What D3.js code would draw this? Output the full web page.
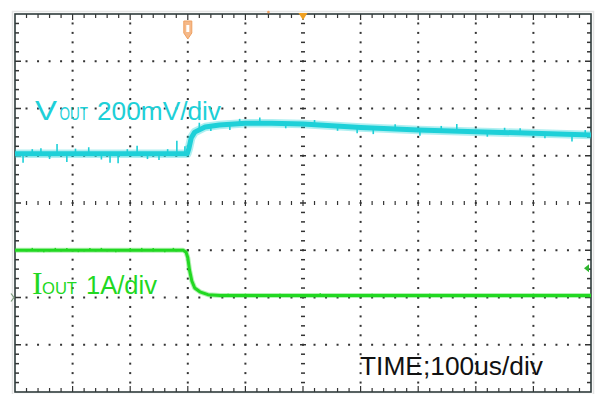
<!DOCTYPE html>
<html>
<head>
<meta charset="utf-8">
<script src="https://cdn.jsdelivr.net/npm/d3@7/dist/d3.min.js"></script>
<style>
  html, body { margin: 0; padding: 0; background: #fff; }
  svg { display: block; }
</style>
</head>
<body>
<svg id="chart" width="595" height="394"></svg>
<script>
// ---- data (time in µs, trigger at 0; 100 µs/div) ----
// VOUT trace, in screen divisions from centre (200 mV/div)
const voutTime = [-500, -201, -198, -194, -188, -170, -145, -100, -55, 0, 100, 200, 300, 400, 500];
const voutDiv  = [1.04, 1.04, 1.16, 1.38, 1.50, 1.61, 1.65, 1.69, 1.69, 1.67, 1.60, 1.545, 1.51, 1.475, 1.44];
// visible noise spikes on VOUT: time, excursion (div)
const voutSpikeTime = [-486, -470, -455, -440, -427, -410, -395, -372, -350, -335, -321, -305, -288, -270, -250, -235, -219, -205, -180, -160, -127, -110, -75, -30, 20, 60, 94, 122, 160, 203, 240, 267, 320, 350, 377, 420, 467, 490];
const voutSpikeDiv  = [-0.19, 0.10, 0.12, -0.11, 0.21, -0.17, 0.11, 0.14, -0.12, -0.19, -0.20, 0.10, 0.17, -0.11, -0.13, 0.10, 0.28, 0.16, 0.15, -0.10, -0.12, 0.10, 0.12, -0.10, 0.10, -0.10, -0.13, -0.13, 0.10, -0.12, 0.10, 0.15, -0.10, 0.10, 0.10, -0.10, -0.15, 0.10];
// IOUT trace, amps (1 A/div, ground at -2 div)
const ioutTime = [-500, -208, -203, -200, -197, -193, -188, -179, -165, -144, 500];
const ioutAmp  = [1.0, 1.0, 0.96, 0.84, 0.58, 0.35, 0.20, 0.12, 0.06, 0.04, 0.04];
const ioutSpikeTime = [-470, -450, -430, -410, -390, -370, -350, -325, -300, -280, -260, -240, -225, -130, -100, -40, 30, 120, 220, 300, 400];
const ioutSpikeAmp  = [0.05, -0.04, 0.05, 0.05, -0.04, 0.05, 0.05, -0.04, 0.05, 0.05, 0.05, -0.04, 0.05, 0.04, 0.04, 0.04, 0.05, 0.04, 0.04, 0.03, 0.04];
const ioutGroundDiv = -2;
// labels
const voutLabel = ["V", "OUT", "200mV/div"];
const ioutLabel = ["I", "OUT", "1A/div"];
const timeLabel = "TIME;100us/div";
const xDomain = [-500, 500];
const yDomain = [-4, 4];

// ---- drawing ----
const svg = d3.select("#chart");
const L = 15, R = 591, T = 14, B = 392;
const x = d3.scaleLinear().domain(xDomain).range([L, R]);
const y = d3.scaleLinear().domain(yDomain).range([B, T]);

const gridCol = "#333";
const cyan = "#1ed0d8";
const green = "#22d822";

// faint outer frame
svg.append("rect").attr("x", L - 2.5).attr("y", T - 2.5).attr("width", R - L + 5).attr("height", B - T + 5)
  .attr("fill", "none").attr("stroke", "#e4e4e4").attr("stroke-width", 1.5);

const xMajor = d3.range(xDomain[0], xDomain[1] + 1, 100);
const xMinor = d3.range(xDomain[0], xDomain[1] + 1, 20);
const yMajor = d3.range(yDomain[0], yDomain[1] + 0.001, 1);
const yMinor = d3.range(0, 41).map(i => yDomain[0] + i * 0.2);

const g = svg.append("g");
// dotted grid
xMajor.filter(t => t !== 0 && Math.abs(t) !== 500).forEach(t => {
  yMinor.filter(v => Math.abs(v) < 3.99).forEach(v => {
    g.append("rect").attr("x", x(t) - 1).attr("y", y(v) - 1).attr("width", 2).attr("height", 2).attr("fill", gridCol);
  });
});
yMajor.filter(v => v !== 0 && Math.abs(v) !== 4).forEach(v => {
  xMinor.filter(t => Math.abs(t) < 499).forEach(t => {
    g.append("rect").attr("x", x(t) - 1).attr("y", y(v) - 1).attr("width", 2).attr("height", 2).attr("fill", gridCol);
  });
});
// centre cross ticks
yMinor.filter(v => Math.abs(v) < 3.99).forEach(v => {
  const w = (Math.abs(v - Math.round(v)) < 1e-6) ? 6 : 4;
  g.append("line").attr("x1", x(0) - w / 2).attr("x2", x(0) + w / 2).attr("y1", y(v)).attr("y2", y(v))
    .attr("stroke", gridCol).attr("stroke-width", 1.5);
});
xMinor.filter(t => Math.abs(t) < 499).forEach(t => {
  const h = (t % 100 === 0) ? 6 : 4;
  g.append("line").attr("x1", x(t)).attr("x2", x(t)).attr("y1", y(0) - h / 2).attr("y2", y(0) + h / 2)
    .attr("stroke", gridCol).attr("stroke-width", 1.2);
});
// border ticks
xMinor.filter(t => Math.abs(t) < 499).forEach(t => {
  const len = (t % 100 === 0) ? 6 : 4;
  g.append("line").attr("x1", x(t)).attr("x2", x(t)).attr("y1", T).attr("y2", T + len).attr("stroke", gridCol).attr("stroke-width", 1.2);
  g.append("line").attr("x1", x(t)).attr("x2", x(t)).attr("y1", B).attr("y2", B - len).attr("stroke", gridCol).attr("stroke-width", 1.2);
});
yMinor.filter(v => Math.abs(v) < 3.99).forEach(v => {
  const len = (Math.abs(v - Math.round(v)) < 1e-6) ? 6 : 4;
  g.append("line").attr("x1", L).attr("x2", L + len).attr("y1", y(v)).attr("y2", y(v)).attr("stroke", gridCol).attr("stroke-width", 1.5);
  g.append("line").attr("x1", R).attr("x2", R - len).attr("y1", y(v)).attr("y2", y(v)).attr("stroke", gridCol).attr("stroke-width", 1.5);
});
// border
g.append("rect").attr("x", L).attr("y", T).attr("width", R - L).attr("height", B - T)
  .attr("fill", "none").attr("stroke", "#2f3b3b").attr("stroke-width", 1.6);

// ---- traces ----
svg.append("clipPath").attr("id", "clip").append("rect")
  .attr("x", L - 3).attr("y", T).attr("width", R - L + 3).attr("height", B - T);
const tr = svg.append("g").attr("clip-path", "url(#clip)");

const voutPts = voutTime.map((t, i) => [t, voutDiv[i]]);
const ioutPts = ioutTime.map((t, i) => [t, ioutAmp[i] + ioutGroundDiv]);
const line = d3.line().x(d => x(d[0])).y(d => y(d[1]));
const interp = (ts, vs, t) => {
  for (let i = 1; i < ts.length; i++) {
    if (t <= ts[i]) { const f = (t - ts[i - 1]) / (ts[i] - ts[i - 1]); return vs[i - 1] + f * (vs[i] - vs[i - 1]); }
  }
  return vs[vs.length - 1];
};

tr.append("path").attr("d", line(voutPts)).attr("fill", "none").attr("stroke", cyan).attr("stroke-opacity", 0.35)
  .attr("stroke-width", 8.5).attr("stroke-linejoin", "round");
tr.append("path").attr("d", line(voutPts)).attr("fill", "none").attr("stroke", cyan)
  .attr("stroke-width", 5).attr("stroke-linejoin", "round");
voutSpikeTime.forEach((t, i) => {
  const base = interp(voutTime, voutDiv, t);
  tr.append("line").attr("x1", x(t)).attr("x2", x(t)).attr("y1", y(base)).attr("y2", y(base + voutSpikeDiv[i]))
    .attr("stroke", cyan).attr("stroke-width", 1.6);
});

tr.append("path").attr("d", line(ioutPts)).attr("fill", "none").attr("stroke", green).attr("stroke-opacity", 0.35)
  .attr("stroke-width", 5).attr("stroke-linejoin", "round");
tr.append("path").attr("d", line(ioutPts)).attr("fill", "none").attr("stroke", green)
  .attr("stroke-width", 3).attr("stroke-linejoin", "round");
ioutSpikeTime.forEach((t, i) => {
  const base = interp(ioutTime, ioutAmp, t) + ioutGroundDiv;
  tr.append("line").attr("x1", x(t)).attr("x2", x(t)).attr("y1", y(base)).attr("y2", y(base + ioutSpikeAmp[i]))
    .attr("stroke", green).attr("stroke-width", 1.5);
});

// ---- markers ----
// trigger position (orange triangle at top centre)
svg.append("path").attr("d", `M${x(0) - 4.5},${T - 1} L${x(0) + 4.5},${T - 1} L${x(0)},${T + 6} Z`).attr("fill", "#f0a020");
svg.append("circle").attr("cx", x(-60)).attr("cy", T - 2).attr("r", 1.3).attr("fill", "#f0a060");
// trigger marker "T" at -200 µs
const mx = x(-200);
svg.append("path").attr("d", `M${mx - 4},21 L${mx + 4},21 L${mx + 4},33 L${mx},39 L${mx - 4},33 Z`)
  .attr("fill", "#f5b888").attr("stroke", "#eea060").attr("stroke-width", 1);
svg.append("path").attr("d", `M${mx - 1.5},25 L${mx + 1.5},25 L${mx + 1.5},32 L${mx - 1.5},32 Z`).attr("fill", "#fff");
// ch2 trigger level arrow at right
svg.append("path").attr("d", `M${R - 7},${y(-1.38)} L${R - 2},${y(-1.38) - 4} L${R - 2},${y(-1.38) + 4} Z`).attr("fill", "#2db52d");
// ch2 ground marker at left
svg.append("path").attr("d", `M${L - 4},${y(ioutGroundDiv) - 4} L${L - 1},${y(ioutGroundDiv)} L${L - 4},${y(ioutGroundDiv) + 4}`)
  .attr("fill", "none").attr("stroke", "#7a9a7a").attr("stroke-width", 1.2);

// ---- labels ----
const font = "'Liberation Sans', Arial, sans-serif";
const vl = svg.append("g").attr("fill", cyan).attr("font-family", font);
vl.append("text").attr("x", 35).attr("y", 119.5).attr("font-size", 27).attr("textLength", 22).attr("lengthAdjust", "spacingAndGlyphs").text(voutLabel[0]);
vl.append("text").attr("x", 59.5).attr("y", 119.5).attr("font-size", 18).attr("textLength", 28.5).attr("lengthAdjust", "spacingAndGlyphs").text(voutLabel[1]);
vl.append("text").attr("x", 97).attr("y", 119.5).attr("font-size", 26).attr("textLength", 124).attr("lengthAdjust", "spacingAndGlyphs").text(voutLabel[2]);

const il = svg.append("g").attr("fill", green);
il.append("text").attr("x", 32).attr("y", 294).attr("font-family", "'Liberation Serif', 'Times New Roman', serif").attr("font-size", 32).text(ioutLabel[0]);
il.append("text").attr("x", 42).attr("y", 294).attr("font-family", font).attr("font-size", 17).attr("textLength", 35).attr("lengthAdjust", "spacingAndGlyphs").text(ioutLabel[1]);
il.append("text").attr("x", 86).attr("y", 294).attr("font-family", font).attr("font-size", 26).attr("textLength", 71).attr("lengthAdjust", "spacingAndGlyphs").text(ioutLabel[2]);

svg.append("text").attr("x", 360).attr("y", 375).attr("font-family", font).attr("font-size", 26)
  .attr("textLength", 183).attr("lengthAdjust", "spacingAndGlyphs").attr("fill", "#111").text(timeLabel);
</script>
</body>
</html>
